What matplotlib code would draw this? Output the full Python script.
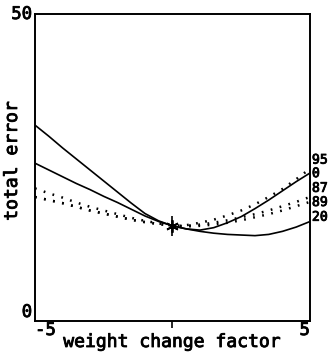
import matplotlib
matplotlib.use("Agg")
import matplotlib.pyplot as plt
import matplotlib.patheffects as pe

# data
x_vals = [-5, -4.5, -4, -3.5, -3, -2.5, -2, -1.5, -1, -0.5, 0,
          0.5, 1, 1.5, 2, 2.5, 3, 3.5, 4, 4.5, 5]
solid_a = [31.9, 30.1, 28.2, 26.4, 24.6, 22.8, 21.0, 19.2, 17.5, 16.3, 15.5,
           15.0, 14.8, 15.2, 16.0, 17.0, 18.3, 19.7, 21.2, 22.7, 24.1]
solid_b = [25.7, 24.6, 23.5, 22.4, 21.4, 20.3, 19.3, 18.2, 17.1, 16.2, 15.5,
           15.0, 14.6, 14.3, 14.1, 14.0, 13.9, 14.1, 14.6, 15.3, 16.2]
dot_c = [21.6, 20.8, 20.1, 19.3, 18.6, 18.0, 17.4, 16.8, 16.3, 15.9, 15.5,
         15.6, 16.0, 16.5, 17.2, 18.0, 19.0, 20.2, 21.5, 23.1, 24.8]
dot_d = [20.2, 19.7, 19.2, 18.6, 18.0, 17.5, 17.0, 16.5, 16.1, 15.8, 15.5,
         15.5, 15.7, 16.0, 16.4, 16.9, 17.4, 18.0, 18.7, 19.4, 20.2]
dot_e = [20.2, 19.7, 19.2, 18.6, 18.0, 17.5, 17.0, 16.5, 16.1, 15.8, 15.5,
         15.4, 15.5, 15.7, 16.0, 16.4, 16.9, 17.4, 18.0, 18.7, 19.4]
start_point = (0, 15.5)
end_labels = ["95", "0", "87", "89", "20"]
end_label_y = [26.2, 24.0, 21.6, 19.3, 16.9]
x_tick_vals = [-5, 5]
x_tick_labels = ["-5", "5"]
y_tick_vals = [0, 50]
y_tick_labels = ["0", "50"]

font = "DejaVu Sans Mono"
thick = [pe.withStroke(linewidth=0.6, foreground="black")]
fig = plt.figure(figsize=(3.32, 3.55), dpi=100)
ax = fig.add_axes([0.1054, 0.0958, 0.8283, 0.8648])
ax.set_xlim(-5, 5)
ax.set_ylim(0, 50)

ax.plot(x_vals, solid_a, color="black", lw=1.2)
ax.plot(x_vals, solid_b, color="black", lw=1.2)
for d in (dot_c, dot_d, dot_e):
    ax.plot(x_vals, d, color="black", lw=1.8, linestyle=(0, (0.7, 3.0)))

ax.plot([start_point[0]], [start_point[1]], marker=(6, 2, 0), ms=9, color="black", mew=1.3)
ax.plot([start_point[0]], [start_point[1]], marker="|", ms=14, color="black", mew=1.2)

for lab, yv in zip(end_labels, end_label_y):
    ax.text(5.07, yv, lab, fontsize=9.5, family=font, path_effects=thick,
            va="center", ha="left", clip_on=False)

for s in ax.spines.values():
    s.set_linewidth(1.4)

ax.set_xticks(x_tick_vals)
ax.set_xticklabels(x_tick_labels, family=font, fontsize=12.5, path_effects=thick)
ax.get_xticklabels()[0].set_ha("left")
ax.get_xticklabels()[1].set_ha("right")
ax.set_xticks([0], minor=True)
ax.tick_params(axis="x", which="major", length=0, pad=0)
ax.tick_params(axis="x", which="minor", length=5, width=1.2, direction="out")
ax.set_yticks(y_tick_vals)
ax.set_yticklabels(y_tick_labels, family=font, fontsize=12.5, path_effects=thick)
ax.tick_params(axis="y", length=0, pad=2)
ax.get_yticklabels()[0].set_va("bottom")
ax.get_yticklabels()[1].set_va("center")

fig.text(172 / 332, 1 - 342 / 355, "weight change factor", family=font, fontsize=13,
         ha="center", va="center", path_effects=thick)
fig.text(12 / 332, 1 - 161 / 355, "total error", family=font, fontsize=13,
         rotation=90, ha="center", va="center", path_effects=thick)

fig.savefig("out.png", dpi=100)
